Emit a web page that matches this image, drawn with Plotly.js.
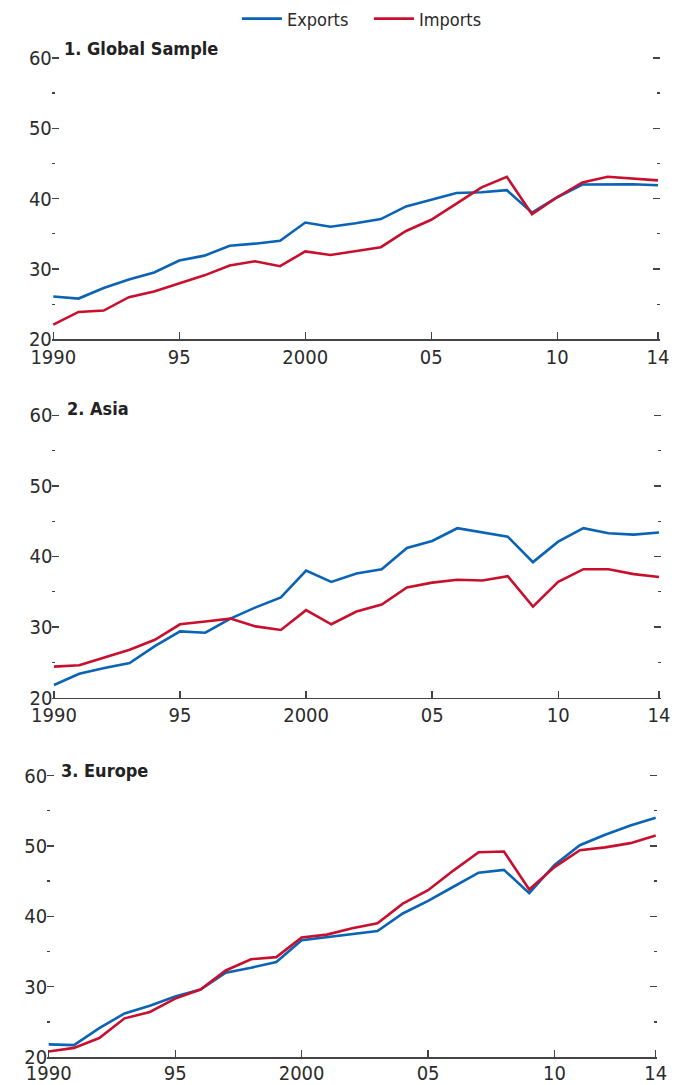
<!DOCTYPE html>
<html>
<head>
<meta charset="utf-8">
<script src="https://cdn.plot.ly/plotly-3.0.1.min.js"></script>
<style>
html,body{margin:0;padding:0;background:#fff;}
#chart{width:687px;height:1085px;}
</style>
</head>
<body>
<div id="chart"></div>
<script>
const years = [1990,1991,1992,1993,1994,1995,1996,1997,1998,1999,2000,2001,2002,2003,2004,2005,2006,2007,2008,2009,2010,2011,2012,2013,2014];

const globalExports = [26.1,25.8,27.3,28.5,29.5,31.2,31.9,33.3,33.6,34.0,36.6,36.0,36.5,37.1,38.9,39.9,40.8,40.9,41.2,38.0,40.2,42.0,42.0,42.05,41.9];
const globalImports = [22.1,23.9,24.1,26.0,26.8,27.9,29.1,30.5,31.1,30.4,32.5,32.0,32.5,33.1,35.4,37.0,39.3,41.6,43.1,37.8,40.2,42.3,43.1,42.9,42.6];

const asiaExports = [21.8,23.4,24.2,24.9,27.3,29.4,29.2,31.2,32.8,34.2,38.0,36.4,37.6,38.2,41.2,42.2,44.0,43.4,42.8,39.2,42.1,44.0,43.3,43.1,43.4];
const asiaImports = [24.4,24.6,25.7,26.8,28.2,30.4,30.8,31.2,30.1,29.6,32.4,30.4,32.2,33.2,35.6,36.3,36.7,36.6,37.2,32.9,36.4,38.2,38.2,37.5,37.1];

const europeExports = [21.8,21.7,24.1,26.2,27.3,28.6,29.6,32.0,32.7,33.5,36.6,37.0,37.5,37.9,40.4,42.2,44.2,46.2,46.6,43.3,47.3,50.1,51.6,52.9,54.0];
const europeImports = [20.8,21.3,22.7,25.5,26.4,28.3,29.6,32.3,33.9,34.2,37.0,37.4,38.3,39.0,41.8,43.7,46.5,49.1,49.2,43.8,47.0,49.4,49.8,50.4,51.5];

const panelTitles = ["1. Global Sample", "2. Asia", "3. Europe"];
const seriesNames = ["Exports", "Imports"];
const xTickVals = [1990,1995,2000,2005,2010,2014];
const xTickText = ["1990","95","2000","05","10","14"];
const yTickVals = [20,30,40,50,60];

const BLUE = "#0b63b5";
const RED = "#c8102e";
const FONT = "'Liberation Sans Narrow', 'Arial Narrow', 'DejaVu Sans Condensed', sans-serif";

const panels = [
  {exp: globalExports, imp: globalImports},
  {exp: asiaExports, imp: asiaImports},
  {exp: europeExports, imp: europeImports}
];

const W = 687, H = 1085;
// pixel positions of 1990 / 2014 and of 60 / 20 in each panel
const xEndsPx = [[53.3, 658], [54, 659], [48.7, 655.7]];
const yEndsPx = [[56, 338], [414, 697], [775, 1057]];
const titlePos = [[62, 47], [65, 407], [59, 770]];
const xLabelStandoff = [-1, -1, -3];
const X_PAD = 0.06;   // small range padding (years) so end ticks are drawn
const Y_PAD = 0.2;    // small range padding (units) so the 60 tick is drawn

const traces = [];
panels.forEach((p, i) => {
  const sfx = i === 0 ? "" : String(i + 1);
  traces.push({
    x: years, y: p.exp, type: "scatter", mode: "lines",
    name: seriesNames[0], line: {color: BLUE, width: 2.6},
    xaxis: "x" + sfx, yaxis: "y" + sfx, showlegend: i === 0, legendrank: 1
  });
  traces.push({
    x: years, y: p.imp, type: "scatter", mode: "lines",
    name: seriesNames[1], line: {color: RED, width: 2.6},
    xaxis: "x" + sfx, yaxis: "y" + sfx, showlegend: i === 0, legendrank: 2
  });
});

const layout = {
  width: W, height: H,
  margin: {l: 0, r: 0, t: 0, b: 0},
  paper_bgcolor: "#fff", plot_bgcolor: "#fff",
  font: {family: FONT, size: 20, color: "#2b2b2b"},
  showlegend: true,
  legend: {
    orientation: "h", x: 0.537, xanchor: "center", y: 1 - 17/H, yanchor: "middle",
    font: {family: FONT, size: 18, color: "#2b2b2b"},
    itemwidth: 40, entrywidth: 77, entrywidthmode: "pixels",
    tracegroupgap: 0, bgcolor: "rgba(0,0,0,0)"
  },
  annotations: [],
  hovermode: false
};

panels.forEach((p, i) => {
  const sfx = i === 0 ? "" : String(i + 1);
  const pxPerYear = (xEndsPx[i][1] - xEndsPx[i][0]) / 24;
  const pxPerUnit = (yEndsPx[i][1] - yEndsPx[i][0]) / 40;
  const xl = xEndsPx[i][0] - X_PAD * pxPerYear;
  const xr = xEndsPx[i][1] + X_PAD * pxPerYear;
  const yt = yEndsPx[i][0] - Y_PAD * pxPerUnit;
  const yb = yEndsPx[i][1];
  layout["xaxis" + sfx] = {
    domain: [xl / W, xr / W],
    anchor: "y" + sfx,
    range: [1990 - X_PAD, 2014 + X_PAD],
    tickmode: "array", tickvals: xTickVals, ticktext: xTickText,
    ticks: "inside", ticklen: 7, tickwidth: 1.3, tickcolor: "#444",
    showline: true, linecolor: "#444", linewidth: 1.5,
    showgrid: false, zeroline: false, fixedrange: true,
    ticklabelstandoff: xLabelStandoff[i],
    tickfont: {family: FONT, size: 20, color: "#2b2b2b"}
  };
  layout["yaxis" + sfx] = {
    domain: [1 - yb / H, 1 - yt / H],
    anchor: "x" + sfx,
    range: [20, 60 + Y_PAD],
    tickmode: "array", tickvals: yTickVals,
    ticks: "inside", ticklen: 7, tickwidth: 1.3, tickcolor: "#444",
    mirror: "ticks", showline: false,
    minor: {dtick: 5, tick0: 25, ticks: "inside", ticklen: 3, tickwidth: 1.3, tickcolor: "#444"},
    showgrid: false, zeroline: false, fixedrange: true,
    ticklabelstandoff: -1,
    tickfont: {family: FONT, size: 20, color: "#2b2b2b"}
  };
  layout.annotations.push({
    text: "<b>" + panelTitles[i] + "</b>",
    xref: "paper", yref: "paper",
    x: titlePos[i][0] / W, y: 1 - titlePos[i][1] / H,
    xanchor: "left", yanchor: "middle", showarrow: false,
    font: {family: FONT, size: 18, color: "#222"}
  });
});

Plotly.newPlot("chart", traces, layout, {displayModeBar: false, staticPlot: true});
</script>
</body>
</html>
